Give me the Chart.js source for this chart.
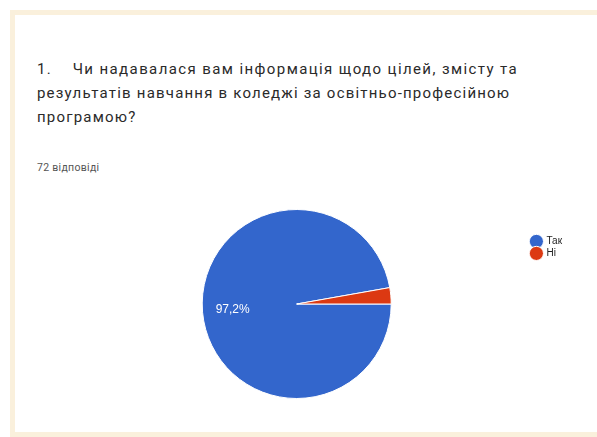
<!DOCTYPE html>
<html>
<head>
<meta charset="utf-8">
<script src="https://cdn.jsdelivr.net/npm/chart.js@4.4.1/dist/chart.umd.min.js"></script>
<style>
    html, body { margin: 0; padding: 0; background: #fff; }
    body { width: 597px; height: 437px; position: relative; overflow: hidden; font-family: Roboto, Arial, sans-serif; }
    .card {
        position: absolute; left: 10px; top: 10px; width: 600px; height: 417px;
        border: 5px solid #faf0dc; background: #fff;
    }
    .title {
        position: absolute; left: 37px; top: 57px; font-size: 15px; line-height: 24px;
        color: #2a2a2a; letter-spacing: 1.2px; white-space: nowrap;
    }
    .title .l1 { letter-spacing: 1.4px; }
    .count {
        position: absolute; left: 37px; top: 161px; font-size: 10.5px; color: #555; letter-spacing: 0.3px;
    }
    #chart-wrap { position: absolute; left: 13px; top: 195px; width: 584px; height: 220px; }
</style>
</head>
<body>
<div class="card"></div>
<div class="title"><span class="l1">1.&nbsp;&nbsp;&nbsp;&nbsp;Чи надавалася вам інформація щодо цілей, змісту та</span><br>результатів навчання в коледжі за освітньо-професійною<br>програмою?</div>
<div class="count">72 відповіді</div>
<div id="chart-wrap"><canvas id="pie-chart"></canvas></div>
<script>
const LABELS = ["Так", "Ні"];
const COUNTS = [70, 2];
const COLORS = ["#3366cc", "#dc3912"];

// percent labels inside the big slices, like google forms does
const sliceLabels = {
    id: "sliceLabels",
    afterDatasetsDraw(chart) {
        const ctx = chart.ctx;
        const total = COUNTS.reduce((s, v) => s + v, 0);
        chart.getDatasetMeta(0).data.forEach((arc, i) => {
            const pct = COUNTS[i] / total * 100;
            if (pct < 5) return;
            const p = arc.getProps(["x", "y", "startAngle", "endAngle", "outerRadius"], true);
            const mid = (p.startAngle + p.endAngle) / 2;
            const r = p.outerRadius * 0.68;
            ctx.save();
            ctx.fillStyle = "#fff";
            ctx.font = "12px Arial, sans-serif";
            ctx.textAlign = "center";
            ctx.textBaseline = "middle";
            ctx.fillText(pct.toFixed(1).replace(".", ",") + "%", p.x + Math.cos(mid) * r, p.y + Math.sin(mid) * r);
            ctx.restore();
        });
    },
};

new Chart(document.getElementById("pie-chart"), {
    type: "pie",
    data: {
        labels: LABELS,
        datasets: [{
            data: COUNTS,
            backgroundColor: COLORS,
            borderColor: "#fff",
            borderWidth: 1,
        }],
    },
    options: {
        responsive: true,
        maintainAspectRatio: false,
        animation: false,
        rotation: 90,
        layout: { padding: { top: 14, bottom: 16, left: 51, right: 25 } },
        plugins: {
            tooltip: { enabled: false },
            legend: {
                position: "right",
                align: "start",
                // empty title only pushes the items down
                title: { display: true, text: " ", padding: { top: 11, bottom: 0 } },
                labels: {
                    usePointStyle: true,
                    pointStyle: "circle",
                    boxWidth: 10,
                    boxHeight: 10,
                    padding: 2,
                    color: "#222",
                    font: { family: "Arial", size: 10 },
                },
            },
        },
    },
    plugins: [sliceLabels],
});
</script>
</body>
</html>
